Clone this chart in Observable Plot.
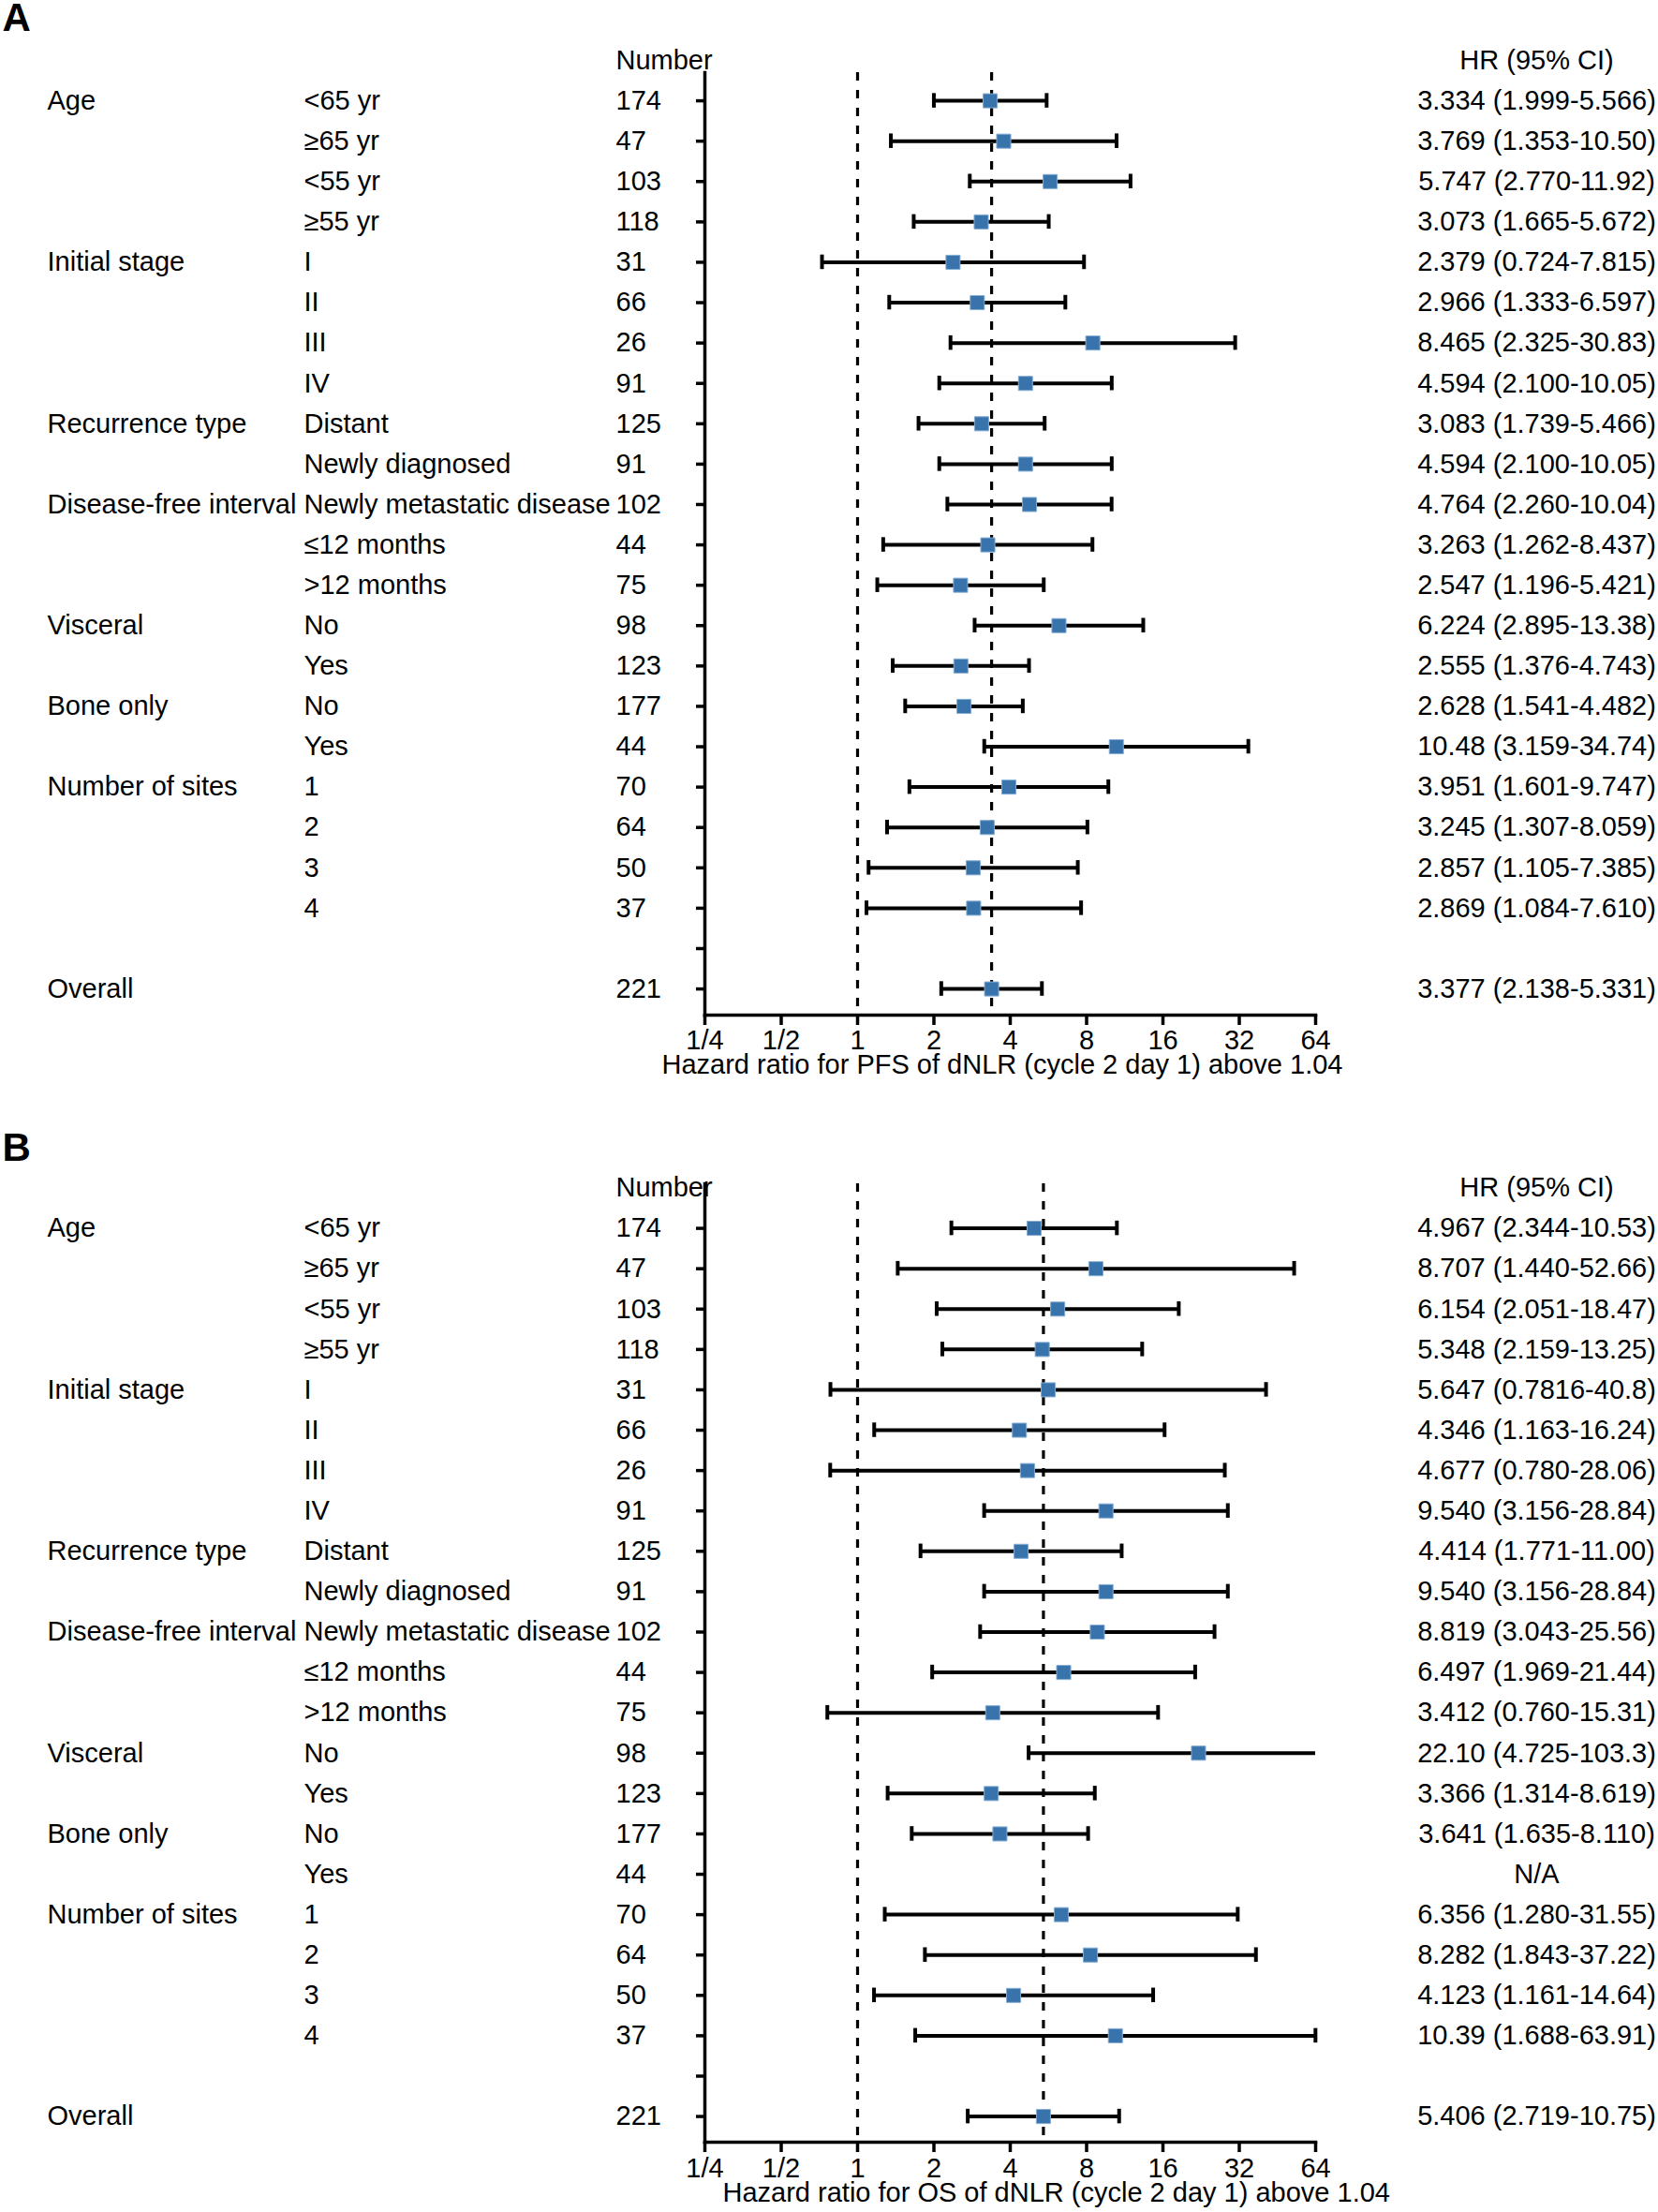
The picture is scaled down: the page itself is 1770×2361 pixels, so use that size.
<!DOCTYPE html>
<html><head><meta charset="utf-8">
<script src="https://cdn.jsdelivr.net/npm/d3@7"></script>
<script src="https://cdn.jsdelivr.net/npm/@observablehq/plot@0.6"></script>
<style>
body{margin:0;background:#fff;}
#chart svg{display:block;}
</style></head><body><div id="chart"></div>
<script>
// ---- data ----
const groups = ["Age","","","","Initial stage","","","","Recurrence type","","Disease-free interval","","","Visceral","","Bone only","","Number of sites","","","","","Overall"];
const subgroups = ["<65 yr","≥65 yr","<55 yr","≥55 yr","I","II","III","IV","Distant","Newly diagnosed","Newly metastatic disease","≤12 months",">12 months","No","Yes","No","Yes","1","2","3","4","",""];
const numbers = ["174","47","103","118","31","66","26","91","125","91","102","44","75","98","123","177","44","70","64","50","37","","221"];

const pfsHR = [3.334,3.769,5.747,3.073,2.379,2.966,8.465,4.594,3.083,4.594,4.764,3.263,2.547,6.224,2.555,2.628,10.48,3.951,3.245,2.857,2.869,null,3.377];
const pfsLo = [1.999,1.353,2.770,1.665,0.724,1.333,2.325,2.100,1.739,2.100,2.260,1.262,1.196,2.895,1.376,1.541,3.159,1.601,1.307,1.105,1.084,null,2.138];
const pfsHi = [5.566,10.50,11.92,5.672,7.815,6.597,30.83,10.05,5.466,10.05,10.04,8.437,5.421,13.38,4.743,4.482,34.74,9.747,8.059,7.385,7.610,null,5.331];
const pfsText = ["3.334 (1.999-5.566)","3.769 (1.353-10.50)","5.747 (2.770-11.92)","3.073 (1.665-5.672)","2.379 (0.724-7.815)","2.966 (1.333-6.597)","8.465 (2.325-30.83)","4.594 (2.100-10.05)","3.083 (1.739-5.466)","4.594 (2.100-10.05)","4.764 (2.260-10.04)","3.263 (1.262-8.437)","2.547 (1.196-5.421)","6.224 (2.895-13.38)","2.555 (1.376-4.743)","2.628 (1.541-4.482)","10.48 (3.159-34.74)","3.951 (1.601-9.747)","3.245 (1.307-8.059)","2.857 (1.105-7.385)","2.869 (1.084-7.610)","","3.377 (2.138-5.331)"];

const osHR = [4.967,8.707,6.154,5.348,5.647,4.346,4.677,9.540,4.414,9.540,8.819,6.497,3.412,22.10,3.366,3.641,null,6.356,8.282,4.123,10.39,null,5.406];
const osLo = [2.344,1.440,2.051,2.159,0.7816,1.163,0.780,3.156,1.771,3.156,3.043,1.969,0.760,4.725,1.314,1.635,null,1.280,1.843,1.161,1.688,null,2.719];
const osHi = [10.53,52.66,18.47,13.25,40.8,16.24,28.06,28.84,11.00,28.84,25.56,21.44,15.31,103.3,8.619,8.110,null,31.55,37.22,14.64,63.91,null,10.75];
const osText = ["4.967 (2.344-10.53)","8.707 (1.440-52.66)","6.154 (2.051-18.47)","5.348 (2.159-13.25)","5.647 (0.7816-40.8)","4.346 (1.163-16.24)","4.677 (0.780-28.06)","9.540 (3.156-28.84)","4.414 (1.771-11.00)","9.540 (3.156-28.84)","8.819 (3.043-25.56)","6.497 (1.969-21.44)","3.412 (0.760-15.31)","22.10 (4.725-103.3)","3.366 (1.314-8.619)","3.641 (1.635-8.110)","N/A","6.356 (1.280-31.55)","8.282 (1.843-37.22)","4.123 (1.161-14.64)","10.39 (1.688-63.91)","","5.406 (2.719-10.75)"];

const tickValues = [0.25,0.5,1,2,4,8,16,32,64];
const tickLabels = ["1/4","1/2","1","2","4","8","16","32","64"];
const xDomain = [0.25, 64];

const FONT = "'Liberation Sans', Arial, Helvetica, sans-serif";
const FS = 29;
const ROW = 43.09;

function panel(o) {
  const rows = groups.map((g, i) => ({i, group: g, sub: subgroups[i], n: numbers[i], hr: o.hr[i], lo: o.lo[i], hi: o.hi[i], txt: o.txt[i]}));
  const est = rows.filter(d => d.hr != null);
  const overall = rows[rows.length - 1].hr;
  const ticks = tickValues.map((v, k) => ({v, label: tickLabels[k]}));
  const capH = 0.18;
  return Plot.plot({
    width: 1770,
    height: o.height,
    marginLeft: 752,
    marginRight: 366,
    marginTop: o.marginTop,
    marginBottom: o.marginBottom,
    style: {fontFamily: FONT, fontSize: FS + "px", color: "#000", background: "#fff"},
    x: {type: "log", base: 2, domain: xDomain, clamp: true},
    y: {domain: [-1, 22], range: [o.y0, o.y0 + 23 * ROW]},
    marks: [
      Plot.ruleX([1, overall], {strokeDasharray: "9,10", strokeWidth: 3.2, stroke: "#000"}),
      Plot.frame({anchor: "left", strokeWidth: 3.5, stroke: "#000"}),
      Plot.frame({anchor: "bottom", strokeWidth: 3.5, stroke: "#000"}),
      Plot.axisY(rows.map(d => d.i), {anchor: "left", tickSize: 9, tickFormat: () => "", strokeWidth: 3.5, label: null}),
      Plot.axisX(tickValues, {anchor: "bottom", tickSize: 11, strokeWidth: 3.5, tickFormat: () => "", label: null}),
      Plot.text(ticks, {x: "v", text: "label", frameAnchor: "bottom", lineAnchor: "middle", dy: o.tickDy, fontSize: FS}),
      Plot.ruleY(est, {y: "i", x1: "lo", x2: "hi", strokeWidth: 4, stroke: "#000"}),
      Plot.ruleX(est.filter(d => d.lo >= xDomain[0]), {x: "lo", y1: d => d.i - capH, y2: d => d.i + capH, strokeWidth: 4, stroke: "#000"}),
      Plot.ruleX(est.filter(d => d.hi <= xDomain[1]), {x: "hi", y1: d => d.i - capH, y2: d => d.i + capH, strokeWidth: 4, stroke: "#000"}),
      Plot.dot(est, {x: "hr", y: "i", symbol: "square", r: 8.5, fill: "#3873ac", stroke: "#86aed4", strokeWidth: 1}),
      Plot.text(rows, {y: "i", text: "group", frameAnchor: "left", dx: -702, textAnchor: "start", fontSize: FS}),
      Plot.text(rows, {y: "i", text: "sub", frameAnchor: "left", dx: -428, textAnchor: "start", fontSize: FS}),
      Plot.text(rows, {y: "i", text: "n", frameAnchor: "left", dx: -95, textAnchor: "start", fontSize: FS}),
      Plot.text(rows, {y: "i", text: "txt", frameAnchor: "right", dx: 236, textAnchor: "middle", fontSize: FS}),
      Plot.text(["Number"], {y: -1, frameAnchor: "left", dx: -95, textAnchor: "start", fontSize: FS}),
      Plot.text(["HR (95% CI)"], {y: -1, frameAnchor: "right", dx: 236, textAnchor: "middle", fontSize: FS}),
      Plot.text([o.title], {frameAnchor: "bottom-left", lineAnchor: "middle", dx: o.titleDx, dy: o.titleDy, textAnchor: "start", fontSize: FS}),
      Plot.text([o.letter], {frameAnchor: "top-left", dx: -750, dy: o.letterDy, lineAnchor: "top", textAnchor: "start", fontSize: 42, fontWeight: "bold"})
    ]
  });
}

const chart = document.getElementById("chart");
chart.append(panel({
  letter: "A", hr: pfsHR, lo: pfsLo, hi: pfsHi, txt: pfsText,
  title: "Hazard ratio for PFS of dNLR (cycle 2 day 1) above 1.04",
  height: 1180, marginTop: 77, marginBottom: 97, y0: 64,
  tickDy: 27, titleDx: -46, titleDy: 53, letterDy: -74
}));
chart.append(panel({
  letter: "B", hr: osHR, lo: osLo, hi: osHi, txt: osText,
  title: "Hazard ratio for OS of dNLR (cycle 2 day 1) above 1.04",
  height: 1181, marginTop: 83, marginBottom: 75, y0: 87.5,
  tickDy: 28, titleDx: 19, titleDy: 54, letterDy: -54
}));
</script>
</body></html>
